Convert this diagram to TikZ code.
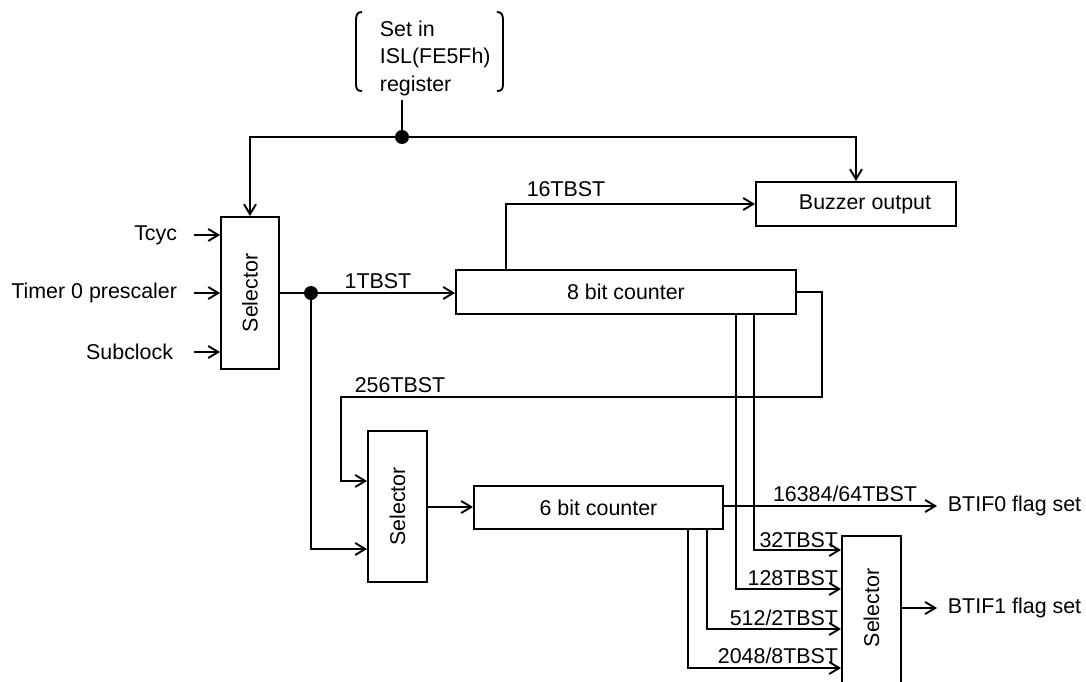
\documentclass[tikz,border=0pt]{standalone}
\usepackage{fontspec}
\setmainfont{Liberation Sans}
\usetikzlibrary{arrows.meta}
\begin{document}
\begin{tikzpicture}[x=1pt,y=-1pt,
  line width=1.9pt,
  every node/.style={font=\fontsize{21.4}{27.5}\selectfont, inner sep=0pt},
  box/.style={draw, rectangle, inner sep=0pt},
  arr/.style={-{Straight Barb[length=10pt,width=12pt,line width=1.9pt]}},
  dot/.style={circle, fill, minimum size=14pt, inner sep=0pt}]
\useasboundingbox (0,0) rectangle (1086,682);

% note
\node[anchor=north west, align=left] (note) at (379,20) {Set in\\ISL(FE5Fh)\\register};
\draw (362,12) .. controls (357,12) and (356,15) .. (356,21) -- (356,83) .. controls (356,89) and (357,91) .. (362,91);
\draw (497,12) .. controls (502,12) and (503,15) .. (503,21) -- (503,83) .. controls (503,89) and (502,91) .. (497,91);
\coordinate (noteb) at (402,100);
\node[dot] (d1) at (402,137) {};

% boxes
\node[box, minimum width=58pt, minimum height=152pt] (sel1) at (250,293) {};
\node[rotate=90] at (sel1.center) {Selector};
\node[box, minimum width=340pt, minimum height=44pt] (cnt8) at (626,292) {8 bit counter};
\node[box, minimum width=200pt, minimum height=44pt] (buz) at (856,204) {};
\node at (865,204) {Buzzer output};
\node[box, minimum width=59pt, minimum height=151pt] (sel2) at (397.5,506.5) {};
\node[rotate=90] at (sel2.center) {Selector};
\node[box, minimum width=249pt, minimum height=43pt] (cnt6) at (598.5,507.5) {6 bit counter};
\node[box, minimum width=59pt, minimum height=150pt] (sel3) at (871.5,611) {};
\node[rotate=90] at (871.5,608) {Selector};

% top control
\draw (noteb) -- (d1.center);
\draw[arr] (d1.center) -| (sel1.north);
\draw[arr] (d1.center) -| (buz.north);

% inputs
\coordinate (tin1) at (194,235);
\coordinate (tin2) at (194,293);
\coordinate (tin3) at (194,352);
\node[anchor=east] (t1) at (178,235) {Tcyc};
\node[anchor=east] (t2) at (178,293) {Timer 0 prescaler};
\node[anchor=east] (t3) at (174,352) {Subclock};
\draw[arr] (tin1) -- (tin1 -| sel1.west);
\draw[arr] (tin2) -- (tin2 -| sel1.west);
\draw[arr] (tin3) -- (tin3 -| sel1.west);

% 1TBST
\node[dot] (d2) at (311,293) {};
\draw (sel1.east |- d2) -- (d2.center);
\draw[arr] (d2.center) -- (d2 -| cnt8.west);
\node (l1) at (378,281) {1TBST};
\draw[arr] (d2.center) |- (sel2.west |- 0,549);

% 16TBST
\draw[arr] (cnt8.north -| 506,0) |- (buz.west);
\node (l16) at (566,189) {16TBST};

% 256TBST
\draw[arr] (cnt8.east) -| (822,397) -| (341,481) -- (sel2.west |- 0,481);
\node (l256) at (400,385) {256TBST};

% selector2 -> 6 bit counter
\coordinate (s2o) at (0,507);
\draw[arr] (sel2.east |- s2o) -- (cnt6.west |- s2o);

% BTIF0
\coordinate (bt0) at (937,506);
\draw[arr] (cnt6.east |- bt0) -- (bt0);
\node (l16384) at (845,494) {16384/64TBST};
\node[anchor=west] (f0) at (947,506) {BTIF0 flag set};

% to selector3
\draw[arr] (cnt8.south -| 754,0) |- (sel3.west |- 0,550);
\draw[arr] (cnt8.south -| 736,0) |- (sel3.west |- 0,589);
\draw[arr] (cnt6.south -| 707,0) |- (sel3.west |- 0,629);
\draw[arr] (cnt6.south -| 688,0) |- (sel3.west |- 0,668);
\node[anchor=east] (l32) at (839,540) {32TBST};
\node[anchor=east] (l128) at (839,578) {128TBST};
\node[anchor=east] (l512) at (839,618) {512/2TBST};
\node[anchor=east] (l2048) at (839,656) {2048/8TBST};

% BTIF1
\coordinate (bt1) at (937,608);
\draw[arr] (sel3.east |- bt1) -- (bt1);
\node[anchor=west] (f1) at (947,608) {BTIF1 flag set};
\end{tikzpicture}
\end{document}
